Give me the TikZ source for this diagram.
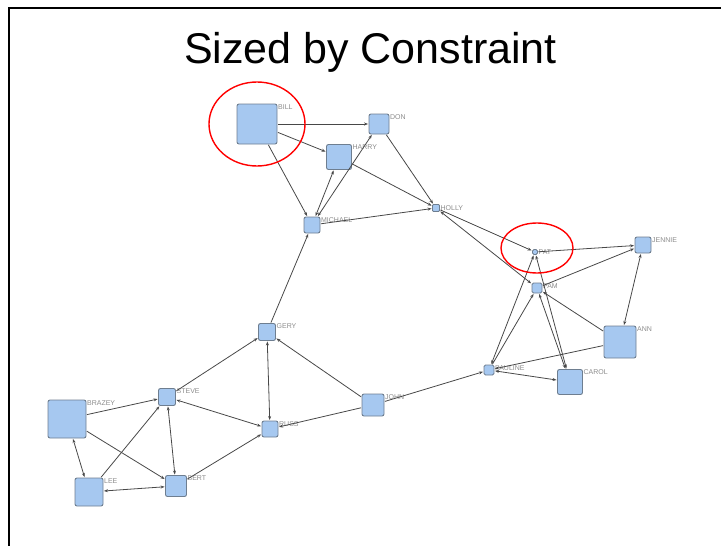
\documentclass[tikz,border=0pt]{standalone}
\usepackage{fontspec}
\setmainfont{Liberation Sans}
\usetikzlibrary{arrows.meta}
\definecolor{nfill}{HTML}{A6C8F0}
\definecolor{ndraw}{HTML}{6E7E90}
\definecolor{edgec}{HTML}{484848}
\definecolor{lblc}{HTML}{8C8C8C}
\tikzset{
  nd/.style={draw=ndraw, fill=nfill, line width=0.9pt, rounded corners=2pt, inner sep=0pt, minimum size=#1},
  lbl/.style={font=\fontsize{7}{8}\selectfont, text=lblc, inner sep=0.5pt},
  edge/.style={draw=edgec, line width=0.8pt, shorten >=0.5pt, shorten <=0.5pt},
  ar/.style={edge, -{Stealth[length=4pt,width=3pt]}},
  br/.style={edge, {Stealth[length=4pt,width=3pt]}-{Stealth[length=4pt,width=3pt]}},
  ring/.style={draw=red, line width=1.4pt}
}
\begin{document}
\begin{tikzpicture}[x=1pt,y=-1pt]
\useasboundingbox (0,0) rectangle (721,546);
\draw[line width=2.2pt] (9,547) -- (9,8) -- (722,8);
\node[font=\fontsize{43}{45}\selectfont, anchor=base, inner sep=0pt] (title) at (370.5,63) {Sized by Constraint};

% nodes
\node[nd=40, label={[lbl,anchor=north west]north east:BILL}] (bill) at (257,124) {};
\node[nd=20, label={[lbl,anchor=north west]north east:DON}] (don) at (379,124) {};
\node[nd=25, label={[lbl,anchor=north west]north east:HARRY}] (harry) at (339,157) {};
\node[nd=16, label={[lbl,anchor=north west]north east:MICHAEL}] (michael) at (312,225) {};
\node[nd=7, rounded corners=1pt, label={[lbl,anchor=west]east:HOLLY}] (holly) at (436,208) {};
\node[nd=5, rounded corners=1.5pt, label={[lbl,anchor=west]east:PAT}] (pat) at (535,252) {};
\node[nd=16, label={[lbl,anchor=north west]north east:JENNIE}] (jennie) at (643,245) {};
\node[nd=10, rounded corners=1.5pt, label={[lbl,anchor=north west]north east:PAM}] (pam) at (537,288) {};
\node[nd=32, label={[lbl,anchor=north west]north east:ANN}] (ann) at (620,342) {};
\node[nd=10, rounded corners=1.5pt, label={[lbl,anchor=north west]north east:PAULINE}] (pauline) at (489,370) {};
\node[nd=25, label={[lbl,anchor=north west]north east:CAROL}] (carol) at (570,382) {};
\node[nd=17, label={[lbl,anchor=north west]north east:GERY}] (gery) at (267,332) {};
\node[nd=17, label={[lbl,anchor=north west]north east:STEVE}] (steve) at (167,397) {};
\node[nd=38, label={[lbl,anchor=north west]north east:BRAZEY}] (brazey) at (67,419) {};
\node[nd=16, label={[lbl,anchor=north west]north east:RUSS}] (russ) at (270,429) {};
\node[nd=28, label={[lbl,anchor=north west]north east:LEE}] (lee) at (89,492) {};
\node[nd=21, label={[lbl,anchor=north west]north east:BERT}] (bert) at (176,486) {};
\node[nd=22, label={[lbl,anchor=north west]north east:JOHN}] (john) at (373,405) {};

% edges
\draw[ar] (bill) -- (don);
\draw[ar] (bill) -- (harry);
\draw[ar] (bill) -- (michael);
\draw[br] (michael) -- (harry);
\draw[br] (michael) -- (don);
\draw[ar] (harry) -- (holly);
\draw[ar] (don) -- (holly);
\draw[ar] (michael) -- (holly);
\draw[ar] (gery) -- (michael);
\draw[ar] (holly) -- (pat);
\draw[br] (holly) -- (pam);
\draw[ar] (pat) -- (jennie);
\draw[ar] (pam) -- (jennie);
\draw[br] (jennie) -- (ann);
\draw[ar] (ann) -- (pam);
\draw[ar] (ann) -- (pauline);
\draw[br] (pauline) -- (carol);
\draw[br] (pauline) -- (pat);
\draw[ar] (pauline) -- (pam);
\draw[br] (carol) -- (pat);
\draw[br] (carol) -- (pam);
\draw[ar] (john) -- (pauline);
\draw[ar] (john) -- (gery);
\draw[ar] (john) -- (russ);
\draw[br] (gery) -- (russ);
\draw[ar] (steve) -- (gery);
\draw[br] (steve) -- (russ);
\draw[ar] (bert) -- (russ);
\draw[br] (steve) -- (bert);
\draw[ar] (brazey) -- (steve);
\draw[ar] (brazey) -- (bert);
\draw[br] (brazey) -- (lee);
\draw[ar] (lee) -- (steve);
\draw[br] (lee) -- (bert);

% highlight rings
\draw[ring] (bill) ellipse[x radius=48, y radius=42];
\draw[ring] (537,248) ellipse[x radius=36, y radius=25];
\end{tikzpicture}
\end{document}
